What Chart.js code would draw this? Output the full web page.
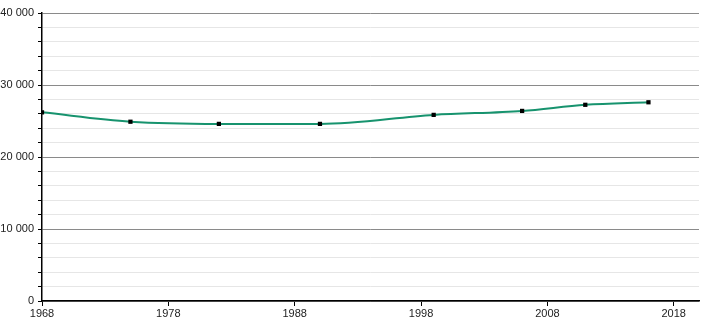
<!DOCTYPE html>
<html>
<head>
<meta charset="utf-8">
<script src="https://cdn.jsdelivr.net/npm/chart.js@4"></script>
<style>
html,body{margin:0;padding:0;background:#fff;}
#wrap{width:710px;height:320px;}
</style>
</head>
<body>
<div id="wrap"><canvas id="c" width="710" height="320"></canvas></div>
<script>
const years = [1968, 1975, 1982, 1990, 1999, 2006, 2011, 2016];
const population = [26200, 24900, 24600, 24600, 25850, 26400, 27250, 27600];
const xTickValues = [1968, 1978, 1988, 1998, 2008, 2018];
const yTickValues = [0, 10000, 20000, 30000, 40000];

const fmt = v => String(v).replace(/\B(?=(\d{3})+(?!\d))/g, ' ');

new Chart(document.getElementById('c'), {
  type: 'line',
  data: {
    datasets: [{
      data: years.map((y, i) => ({x: y, y: population[i]})),
      borderColor: '#17936e',
      borderWidth: 2,
      cubicInterpolationMode: 'monotone',
      pointStyle: 'rect',
      pointRadius: 3,
      pointBackgroundColor: '#000',
      pointBorderColor: '#000',
      pointBorderWidth: 0,
      fill: false
    }]
  },
  options: {
    responsive: false,
    animation: false,
    devicePixelRatio: 1,
    layout: {padding: {top: 13, right: 11, bottom: 0, left: 0}},
    plugins: {legend: {display: false}, tooltip: {enabled: false}},
    scales: {
      x: {
        type: 'linear',
        min: 1968,
        max: 2020,
        afterBuildTicks: s => { s.ticks = xTickValues.map(v => ({value: v})); },
        afterFit: s => { s.height = 19; },
        grid: {drawOnChartArea: false, drawTicks: true, tickLength: 5, tickColor: '#000'},
        border: {color: '#000', width: 1.5},
        ticks: {
          color: '#222',
          font: {family: 'Liberation Sans, Arial', size: 11},
          padding: 1,
          maxRotation: 0,
          autoSkip: false,
          callback: v => String(v)
        }
      },
      y: {
        min: 0,
        max: 40000,
        afterBuildTicks: s => {
          const t = [];
          for (let v = 0; v <= 40000; v += 2000) t.push({value: v});
          s.ticks = t;
        },
        afterFit: s => { s.width = 42; },
        grid: {
          color: ctx => (ctx.tick && ctx.tick.value % 10000 === 0) ? '#8a8a8a' : '#e6e6e6',
          lineWidth: 1,
          tickLength: 4,
          tickColor: '#000'
        },
        border: {color: '#000', width: 1.5},
        ticks: {
          color: '#222',
          font: {family: 'Liberation Sans, Arial', size: 11},
          padding: 4,
          autoSkip: false,
          callback: v => yTickValues.includes(v) ? fmt(v) : ''
        }
      }
    }
  }
});
</script>
</body>
</html>
